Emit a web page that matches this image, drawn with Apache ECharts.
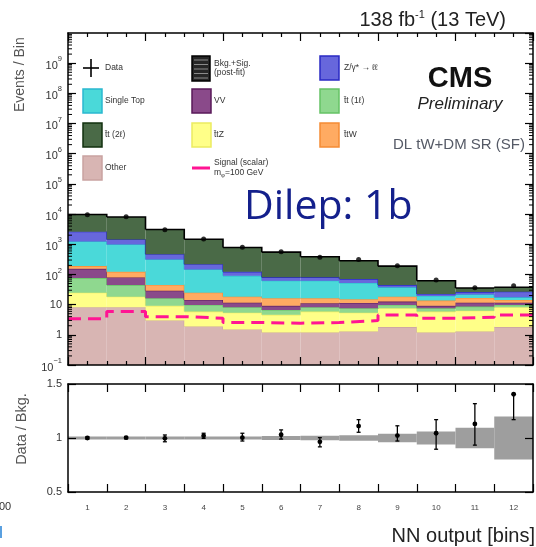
<!DOCTYPE html>
<html>
<head>
<meta charset="utf-8">
<script src="https://cdn.jsdelivr.net/npm/echarts@6/dist/echarts.min.js"></script>
<style>
html, body { margin: 0; padding: 0; background: #fff; }
#main { width: 536px; height: 547px; }
</style>
</head>
<body>
<div id="main"></div>
<script>
// bins of the NN output
var bins = ['1', '2', '3', '4', '5', '6', '7', '8', '9', '10', '11', '12'];

// background processes, bottom of the stack first
var other     = [8.2, 8.2, 3.0, 1.9, 1.5, 1.2, 1.2, 1.3, 1.8, 1.2, 1.3, 1.8];
var ttz       = [16.7, 10.2, 6.1, 4.0, 3.9, 3.4, 4.7, 4.1, 5.8, 4.7, 5.0, 6.4];
var tt1l      = [51, 26, 7.2, 3.9, 2.8, 2.1, 2.3, 2.2, 2.2, 1.7, 2.3, 1.6];
var vv        = [78, 35, 12.7, 4.5, 3.4, 2.4, 2.9, 3.8, 2.8, 1.5, 3.0, 1.8];
var ttw       = [35, 43, 15.7, 10.6, 6.8, 7.2, 5.2, 3.8, 5.8, 4.5, 5.1, 2.7];
var singleTop = [1046, 862, 270, 122, 72, 46, 46, 37, 19, 5.8, 5.1, 3.2];
var dy        = [1365, 455, 156, 73, 32, 18, 18, 18, 7.2, 3.2, 4.2, 9.4];
var tt2l      = [7055, 6580, 2610, 1254, 661, 469, 304, 214, 144, 39, 9.6, 10.6];

var signal = [3.4, 5.9, 4.0, 3.56, 2.55, 2.43, 2.55, 2.97, 4.57, 3.56, 3.84, 4.57];
var dataEv = [9600, 8200, 3050, 1500, 790, 565, 370, 315, 195, 65, 36, 42];

// ratio panel
var ratio   = [1.0, 1.003, 0.997, 1.02, 1.003, 1.03, 0.965, 1.11, 1.022, 1.044, 1.13, 1.405];
var ratioLo = [0.99, 0.993, 0.965, 0.997, 0.972, 0.99, 0.918, 1.053, 0.972, 0.896, 0.934, 1.17];
var ratioHi = [1.01, 1.013, 1.028, 1.044, 1.044, 1.075, 1.003, 1.17, 1.113, 1.17, 1.318, 1.41];
var bandUnc = [0.015, 0.015, 0.015, 0.015, 0.015, 0.018, 0.02, 0.025, 0.04, 0.06, 0.095, 0.2];

var yMin = 0.1, yMax = 1e10;
var nb = bins.length;

var procs = [
	{vals: other,     fill: '#d8b5b3', edge: '#c9a3a1'},
	{vals: ttz,       fill: '#ffff88', edge: '#ecec60'},
	{vals: tt1l,      fill: '#8fd88f', edge: '#66c266'},
	{vals: vv,        fill: '#8a4a8a', edge: '#5a1a5a'},
	{vals: ttw,       fill: '#ffab62', edge: '#f58c35'},
	{vals: singleTop, fill: '#4ad9d9', edge: '#2ab8d0'},
	{vals: dy,        fill: '#6767dc', edge: '#2a2ac4'},
	{vals: tt2l,      fill: '#4a6a47', edge: '#000000'}
];

// cumulative tops
var cum = [];
procs.forEach(function (p, k) {
	cum.push(p.vals.map(function (v, i) { return (k ? cum[k - 1][i] : 0) + v; }));
});

function stackSeries(k) {
	var p = procs[k];
	var tops = cum[k];
	return {
		type: 'custom', xAxisIndex: 0, yAxisIndex: 0, clip: true, silent: true,
		data: bins.map(function (b, i) { return [i, k ? cum[k - 1][i] : yMin, tops[i]]; }),
		renderItem: function (params, api) {
			var i = api.value(0);
			var a = api.coord([i, api.value(1)]);
			var b = api.coord([i + 1, api.value(2)]);
			var pts = [[a[0], b[1]], [b[0], b[1]]];
			if (i < nb - 1) pts.push([b[0], api.coord([i + 1, tops[i + 1]])[1]]);
			return {type: 'group', children: [
				{type: 'rect', shape: {x: a[0], y: b[1], width: b[0] - a[0], height: a[1] - b[1]}, style: {fill: p.fill}},
				{type: 'polyline', shape: {points: pts}, style: {stroke: p.edge, lineWidth: k === procs.length - 1 ? 1.6 : 1.2, fill: null}}
			]};
		}
	};
}

// log minor ticks 2..9 x 10^k
var minorVals = [];
for (var e = -1; e < 10; e++) for (var m = 2; m <= 9; m++) minorVals.push(m * Math.pow(10, e));

var series = [];
for (var k = 0; k < procs.length; k++) series.push(stackSeries(k));

series.push({
	type: 'line', xAxisIndex: 0, yAxisIndex: 0, step: 'end', symbol: 'none', silent: true,
	data: signal.map(function (s, i) { return [i, s]; }).concat([[nb, signal[nb - 1]]]),
	lineStyle: {color: '#ff1493', width: 3, type: [13, 7]},
	z: 4
});
series.push({
	type: 'scatter', xAxisIndex: 0, yAxisIndex: 0, silent: true,
	data: dataEv.map(function (v, i) { return [i + 0.5, v]; }),
	symbolSize: 5, itemStyle: {color: '#000'}, z: 5
});
series.push({
	type: 'custom', xAxisIndex: 0, yAxisIndex: 0, silent: true, z: 6,
	data: minorVals.map(function (v) { return [0, v]; }),
	renderItem: function (params, api) {
		var l = api.coord([0, api.value(1)]);
		var r = api.coord([nb, api.value(1)]);
		return {type: 'group', children: [
			{type: 'line', shape: {x1: l[0], y1: l[1], x2: l[0] + 4, y2: l[1]}, style: {stroke: '#000', lineWidth: 1}},
			{type: 'line', shape: {x1: r[0], y1: r[1], x2: r[0] - 4, y2: r[1]}, style: {stroke: '#000', lineWidth: 1}}
		]};
	}
});

// ratio panel: uncertainty band and data points
series.push({
	type: 'custom', xAxisIndex: 2, yAxisIndex: 2, silent: true, clip: true,
	data: bandUnc.map(function (u, i) { return [i, 1 - u, 1 + u]; }),
	renderItem: function (params, api) {
		var w = api.size([1, 0])[0];
		var lo = api.coord([api.value(0), api.value(1)]);
		var hi = api.coord([api.value(0), api.value(2)]);
		return {type: 'rect', shape: {x: lo[0] - w / 2, y: hi[1], width: w, height: lo[1] - hi[1]}, style: {fill: '#9e9e9e'}};
	}
});
series.push({
	type: 'custom', xAxisIndex: 2, yAxisIndex: 2, silent: true, z: 5,
	data: ratio.map(function (r, i) { return [i, r, ratioLo[i], ratioHi[i]]; }),
	renderItem: function (params, api) {
		var c = api.coord([api.value(0), api.value(1)]);
		var lo = api.coord([api.value(0), api.value(2)]);
		var hi = api.coord([api.value(0), api.value(3)]);
		var st = {stroke: '#000', lineWidth: 1.3};
		return {type: 'group', children: [
			{type: 'line', shape: {x1: c[0], y1: lo[1], x2: c[0], y2: hi[1]}, style: st},
			{type: 'line', shape: {x1: c[0] - 2, y1: lo[1], x2: c[0] + 2, y2: lo[1]}, style: st},
			{type: 'line', shape: {x1: c[0] - 2, y1: hi[1], x2: c[0] + 2, y2: hi[1]}, style: st},
			{type: 'circle', shape: {cx: c[0], cy: c[1], r: 2.4}, style: {fill: '#000'}}
		]};
	}
});

var frame = {show: true, onZero: false, lineStyle: {color: '#000', width: 1.5}};
var tick8 = {show: true, inside: true, length: 8, lineStyle: {color: '#000', width: 1.2}};

function logLabel(v) {
	var e = Math.round(Math.log10(v));
	if (e === 0) return '1';
	if (e === 1) return '10';
	return '{b|10}{s|' + (e < 0 ? '\u2212' + (-e) : e) + '}';
}

var font = 'Liberation Sans';
function txt(x, y, text, size, opts) {
	opts = opts || {};
	return {
		type: 'text', x: x, y: y, rotation: opts.rot || 0, z: 20, silent: true,
		style: {
			text: text, fill: opts.color || '#333',
			font: (opts.style || '') + ' ' + size + 'px "' + (opts.family || font) + '"',
			align: opts.align || 'left', verticalAlign: opts.va || 'middle',
			rich: opts.rich
		}
	};
}
function box(x, y, fill, edge) {
	return {type: 'rect', z: 20, silent: true, shape: {x: x, y: y, width: 19, height: 24},
		style: {fill: fill, stroke: edge, lineWidth: 1.5}};
}

var legSub = {sub: {fontSize: 6, verticalAlign: 'bottom', lineHeight: 11, fontFamily: font}};

var graphics = [
	txt(506, 20, '138 fb{sup|-1} (13 TeV)', 20, {align: 'right', color: '#222', rich: {sup: {fontSize: 11, verticalAlign: 'top', lineHeight: 22}}}),
	txt(20, 112, 'Events / Bin', 14, {rot: Math.PI / 2, color: '#555'}),
	txt(22, 429, 'Data / Bkg.', 14.5, {rot: Math.PI / 2, align: 'center', color: '#555'}),
	txt(535, 536, 'NN output [bins]', 20, {align: 'right', color: '#222'}),
	txt(460, 79, 'CMS', 29, {align: 'center', style: 'bold', color: '#111'}),
	txt(460, 104, 'Preliminary', 17, {align: 'center', style: 'italic', color: '#222'}),
	txt(525, 145, 'DL tW+DM SR (SF)', 15, {align: 'right', color: '#555a66'}),
	txt(244, 207, 'Dilep: 1b', 41, {color: '#14208c', family: 'Open Sans'}),
	txt(-1, 507, '00', 11, {color: '#333'}),
	{type: 'rect', z: 20, silent: true, shape: {x: 0, y: 526, width: 2, height: 12}, style: {fill: '#5aa0e0'}},

	// legend column 1
	{type: 'line', z: 20, silent: true, shape: {x1: 83, y1: 68, x2: 99, y2: 68}, style: {stroke: '#000', lineWidth: 1.6}},
	{type: 'line', z: 20, silent: true, shape: {x1: 91, y1: 59, x2: 91, y2: 77}, style: {stroke: '#000', lineWidth: 1.6}},
	txt(105, 68, 'Data', 8.5),
	box(83, 89, '#4ad9d9', '#2ab8d0'),
	txt(105, 101, 'Single Top', 8.5),
	box(83, 123, '#4a6a47', '#12300f'),
	txt(105, 135, 't\u0304t (2\u2113)', 8.5),
	box(83, 156, '#d8b5b3', '#c9a3a1'),
	txt(105, 168, 'Other', 8.5),

	// legend column 2
	{type: 'rect', z: 20, silent: true, shape: {x: 192, y: 56, width: 18, height: 25}, style: {fill: '#262626', stroke: '#000', lineWidth: 1.5}},
	txt(214, 68, 'Bkg.+Sig.\n(post-fit)', 8.5),
	box(192, 89, '#8a4a8a', '#5a1a5a'),
	txt(214, 101, 'VV', 8.5),
	box(192, 123, '#ffff88', '#ecec60'),
	txt(214, 135, 't\u0304tZ', 8.5),
	{type: 'line', z: 20, silent: true, shape: {x1: 192, y1: 168, x2: 210, y2: 168}, style: {stroke: '#ff1493', lineWidth: 3}},
	txt(214, 168, 'Signal (scalar)\nm{sub|\u03c6}=100 GeV', 8.5, {rich: legSub}),

	// legend column 3
	box(320, 56, '#6767dc', '#2a2ac4'),
	txt(344, 68, 'Z/\u03b3* \u2192 \u2113\u2113', 8.5),
	box(320, 89, '#8fd88f', '#66c266'),
	txt(344, 101, 't\u0304t (1\u2113)', 8.5),
	box(320, 123, '#ffab62', '#f58c35'),
	txt(344, 135, 't\u0304tW', 8.5)
];
// hatching of the post-fit box
for (var h = 0; h < 5; h++) {
	graphics.push({type: 'line', z: 21, silent: true, shape: {x1: 194, y1: 60 + h * 4.5, x2: 208, y2: 60 + h * 4.5}, style: {stroke: '#8a8a8a', lineWidth: 1}});
}

var myChart = echarts.init(document.getElementById('main'), null, {renderer: 'canvas'});

var option = {
	backgroundColor: '#fff',
	animation: false,
	textStyle: {fontFamily: font},
	grid: [
		{left: 68, right: 3, top: 33, height: 332, show: false},
		{left: 68, right: 3, top: 384, height: 108, show: false}
	],
	xAxis: [
		{gridIndex: 0, type: 'value', min: 0, max: 12, interval: 2, position: 'bottom', z: 10,
			axisLine: frame, axisTick: tick8, axisLabel: {show: false}, splitLine: {show: false},
			minorTick: {show: true, splitNumber: 4, length: 4, lineStyle: {color: '#000', width: 1.2}}},
		{gridIndex: 0, type: 'value', min: 0, max: 12, interval: 2, position: 'top', z: 10,
			axisLine: frame, axisTick: tick8, axisLabel: {show: false}, splitLine: {show: false},
			minorTick: {show: true, splitNumber: 4, length: 4, lineStyle: {color: '#000', width: 1.2}}},
		{gridIndex: 1, type: 'category', data: bins, boundaryGap: true, position: 'bottom', z: 10,
			axisLine: frame, axisTick: {show: true, inside: true, length: 8, interval: 0, lineStyle: {color: '#000', width: 1.2}},
			axisLabel: {fontSize: 8, color: '#444', margin: 12, interval: 0}},
		{gridIndex: 1, type: 'category', data: bins, boundaryGap: true, position: 'top', z: 10,
			axisLine: frame, axisTick: {show: true, inside: true, length: 8, interval: 0, lineStyle: {color: '#000', width: 1.2}},
			axisLabel: {show: false}}
	],
	yAxis: [
		{gridIndex: 0, type: 'log', logBase: 10, min: yMin, max: yMax, interval: 1, position: 'left', z: 10,
			axisLine: frame, axisTick: tick8, splitLine: {show: false},
			axisLabel: {formatter: logLabel, fontSize: 11, color: '#333', margin: 6, showMaxLabel: false,
				rich: {
					b: {fontSize: 11, color: '#333', lineHeight: 16, verticalAlign: 'bottom'},
					s: {fontSize: 7.5, color: '#333', lineHeight: 16, verticalAlign: 'top'}
				}}},
		{gridIndex: 0, type: 'log', logBase: 10, min: yMin, max: yMax, interval: 1, position: 'right', z: 10,
			axisLine: frame, axisTick: tick8, splitLine: {show: false}, axisLabel: {show: false}},
		{gridIndex: 1, type: 'value', min: 0.5, max: 1.5, interval: 0.5, position: 'left', z: 10,
			axisLine: frame, axisTick: tick8, splitLine: {show: false},
			axisLabel: {fontSize: 11, color: '#333', margin: 6}},
		{gridIndex: 1, type: 'value', min: 0.5, max: 1.5, interval: 0.5, position: 'right', z: 10,
			axisLine: frame, axisTick: tick8, splitLine: {show: false}, axisLabel: {show: false}}
	],
	series: series,
	graphic: graphics
};

myChart.setOption(option);
</script>
</body>
</html>
